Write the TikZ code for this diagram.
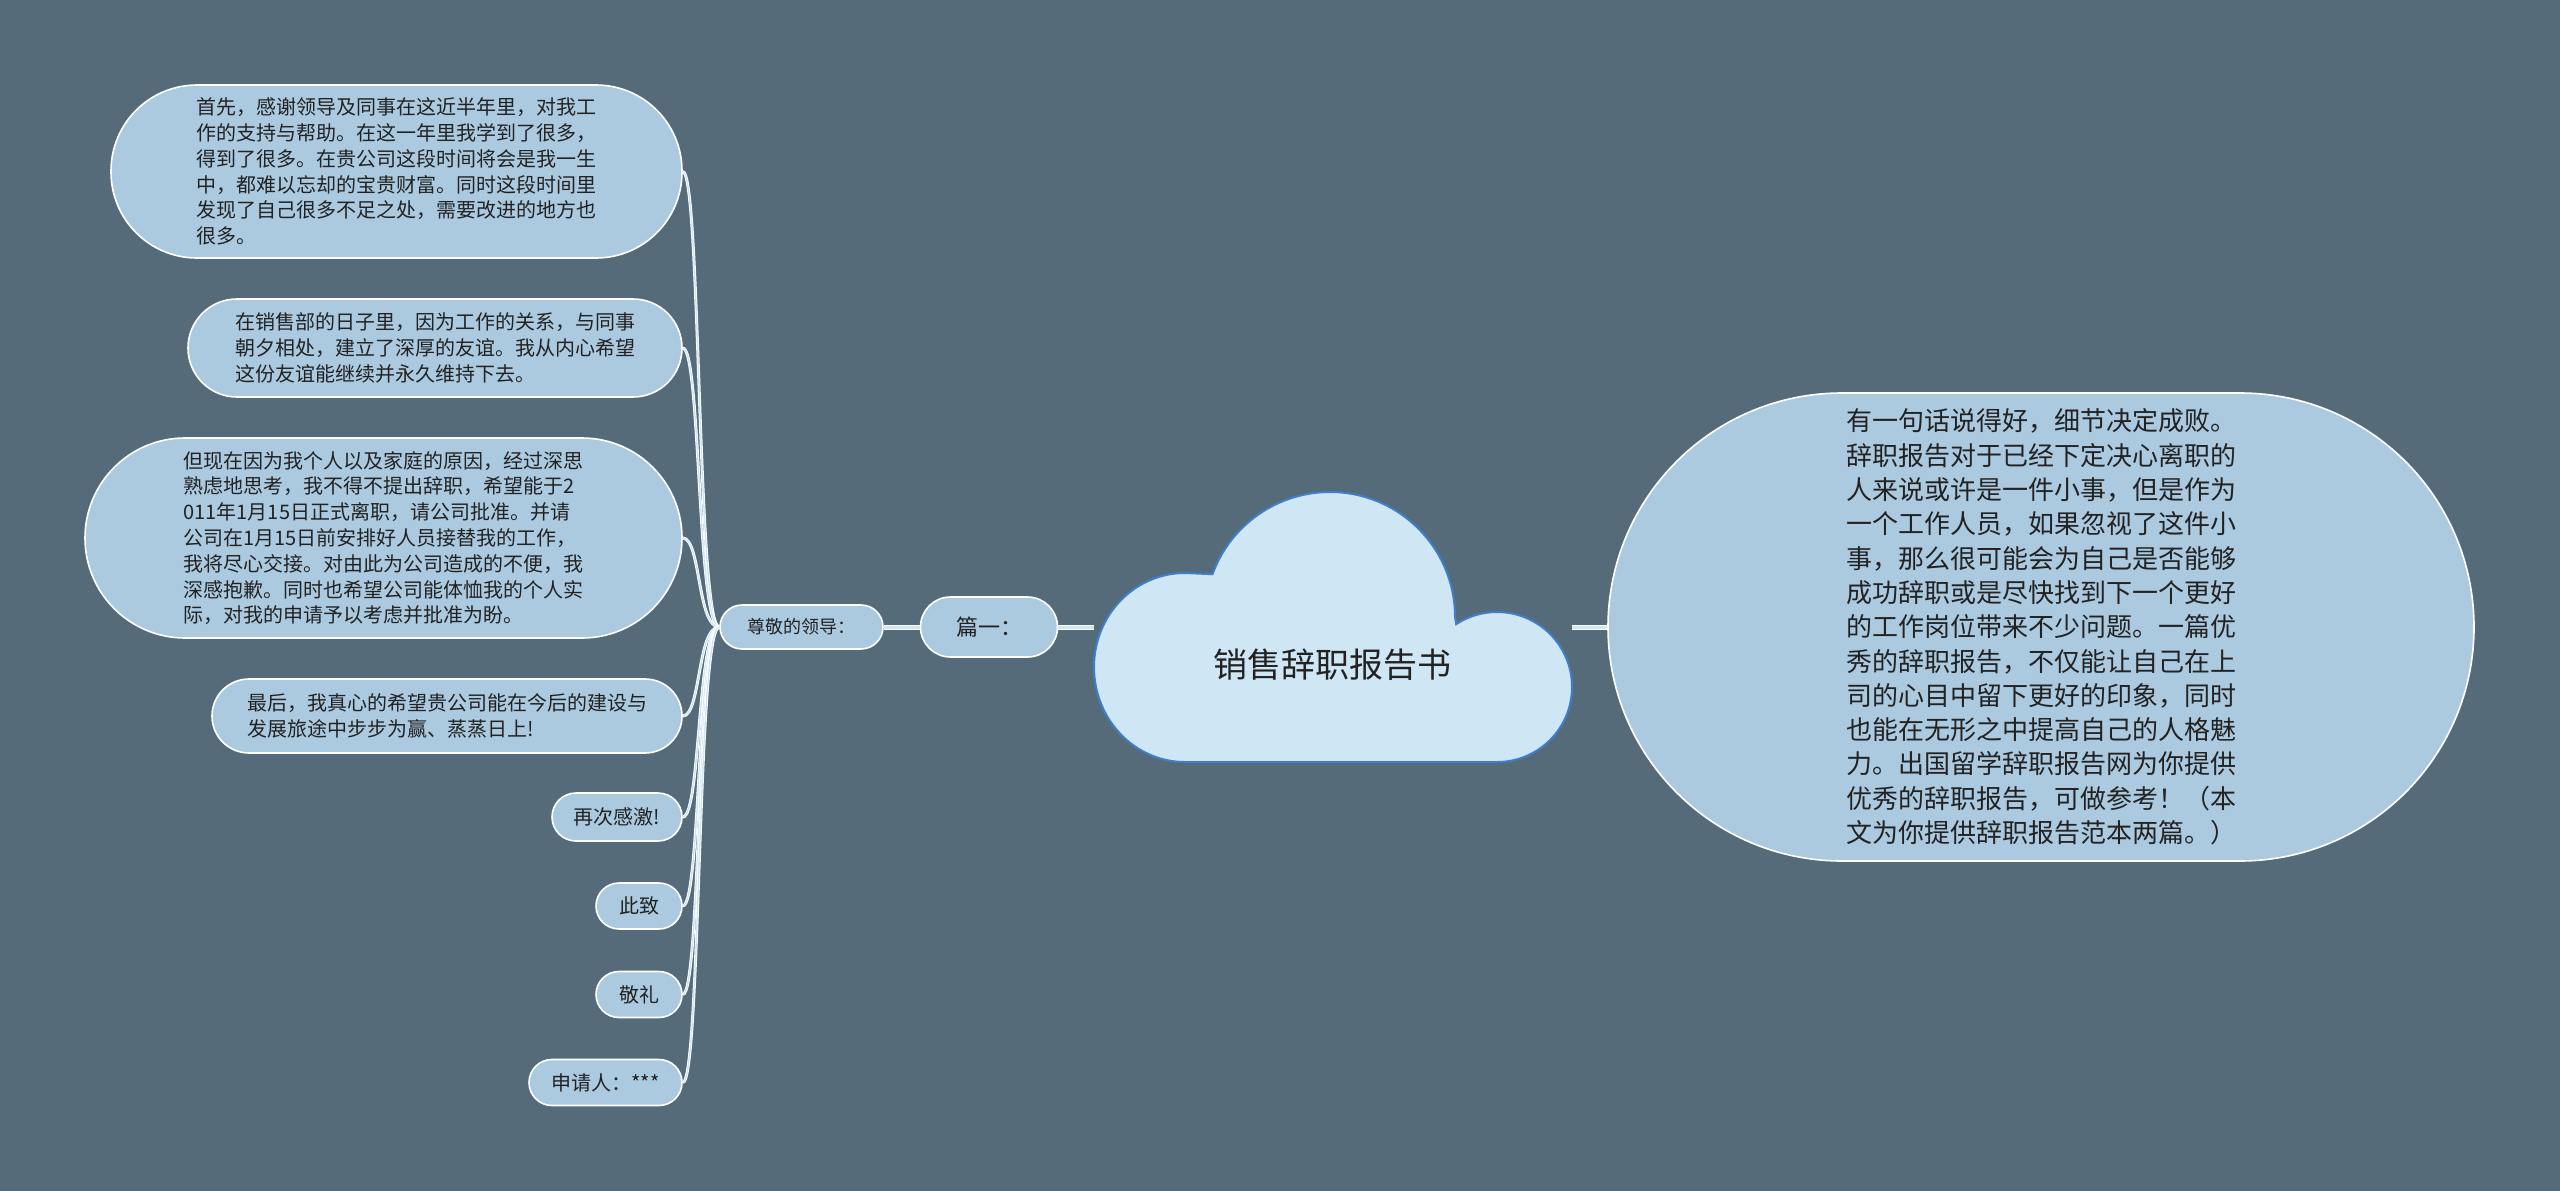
\documentclass[tikz,border=0pt]{standalone}
\usepackage{fontspec}
\setmainfont{Noto Sans CJK SC}
\definecolor{bgcol}{HTML}{566B7A}
\definecolor{bubcol}{HTML}{ABCAE0}
\definecolor{txtcol}{HTML}{222222}
\definecolor{linkcol}{HTML}{CFE6F4}
\definecolor{cloudfill}{HTML}{CFE6F4}
\definecolor{cloudline}{HTML}{3F7FC8}
\begin{document}
\begin{tikzpicture}[x=1pt,y=-1pt,
  bubble/.style={draw=white, line width=1.6pt, fill=bubcol, text=txtcol, inner sep=0pt, align=left},
  smalltxt/.style={font=\fontsize{20pt}{25.8pt}\selectfont},
  bigtxt/.style={font=\fontsize{26pt}{34.3pt}\selectfont},
  thinlink/.style={draw=white, line width=0.8pt, double=linkcol, double distance=1.4pt},
  thicklink/.style={draw=white, line width=1pt, double=linkcol, double distance=3pt},
]
\fill[bgcol] (0,0) rectangle (2560,1191);
\useasboundingbox (0,0) rectangle (2560,1191);

% cloud
\draw[fill=cloudfill, draw=cloudline, line width=2pt]
  (1185,762) .. controls (1134.7,762) and (1094,719.5) .. (1094,667)
  .. controls (1094,615) and (1134.7,573) .. (1185,573)
  -- (1212.5,574.2)
  .. controls (1230.5,524.8) and (1277.4,492) .. (1330,492)
  .. controls (1399,492) and (1455,548) .. (1455,617)
  -- (1456.2,624.1)
  .. controls (1468.4,616.2) and (1482.5,612) .. (1497,612)
  .. controls (1538.4,612) and (1572,645.6) .. (1572,687)
  .. controls (1572,728.4) and (1538.4,762) .. (1497,762)
  -- cycle;
\node[font=\fontsize{34pt}{40pt}\selectfont, text=txtcol] (title) at (1332,665) {销售辞职报告书};
\coordinate (cw) at (1094,627);
\coordinate (ce) at (1572,627);

% right node
\node[bubble, bigtxt, minimum width=866pt, minimum height=468pt, rounded corners=234pt] (rt) at (2041,627)
 {有一句话说得好，细节决定成败。\\
  辞职报告对于已经下定决心离职的\\
  人来说或许是一件小事，但是作为\\
  一个工作人员，如果忽视了这件小\\
  事，那么很可能会为自己是否能够\\
  成功辞职或是尽快找到下一个更好\\
  的工作岗位带来不少问题。一篇优\\
  秀的辞职报告，不仅能让自己在上\\
  司的心目中留下更好的印象，同时\\
  也能在无形之中提高自己的人格魅\\
  力。出国留学辞职报告网为你提供\\
  优秀的辞职报告，可做参考！（本\\
  文为你提供辞职报告范本两篇。）};

% middle nodes
\node[bubble, font=\fontsize{22pt}{26pt}\selectfont, minimum width=137pt, minimum height=60pt, rounded corners=30pt] (p1) at (989,627) {篇一：};
\node[bubble, font=\fontsize{18pt}{22pt}\selectfont, minimum width=163pt, minimum height=44pt, rounded corners=22pt] (lead) at (801.5,627) {尊敬的领导：};

% left leaves
\node[bubble, smalltxt, minimum width=571pt, minimum height=173pt, rounded corners=86pt] (b1) at (396.5,171.5)
 {首先，感谢领导及同事在这近半年里，对我工\\
  作的支持与帮助。在这一年里我学到了很多，\\
  得到了很多。在贵公司这段时间将会是我一生\\
  中，都难以忘却的宝贵财富。同时这段时间里\\
  发现了自己很多不足之处，需要改进的地方也\\
  很多。};
\node[bubble, smalltxt, minimum width=494pt, minimum height=98pt, rounded corners=49pt] (b2) at (435,348)
 {在销售部的日子里，因为工作的关系，与同事\\
  朝夕相处，建立了深厚的友谊。我从内心希望\\
  这份友谊能继续并永久维持下去。};
\node[bubble, smalltxt, minimum width=597pt, minimum height=200pt, rounded corners=100pt] (b3) at (383.5,538)
 {但现在因为我个人以及家庭的原因，经过深思\\
  熟虑地思考，我不得不提出辞职，希望能于2\\
  011年1月15日正式离职，请公司批准。并请\\
  公司在1月15日前安排好人员接替我的工作，\\
  我将尽心交接。对由此为公司造成的不便，我\\
  深感抱歉。同时也希望公司能体恤我的个人实\\
  际，对我的申请予以考虑并批准为盼。};
\node[bubble, smalltxt, minimum width=470pt, minimum height=74pt, rounded corners=37pt] (b4) at (447,716)
 {最后，我真心的希望贵公司能在今后的建设与\\
  发展旅途中步步为赢、蒸蒸日上!};
\node[bubble, smalltxt, minimum width=130pt, minimum height=48pt, rounded corners=24pt] (b5) at (617,817) {再次感激!};
\node[bubble, smalltxt, minimum width=86pt, minimum height=46pt, rounded corners=23pt] (b6) at (639,906) {此致};
\node[bubble, smalltxt, minimum width=86pt, minimum height=46pt, rounded corners=23pt] (b7) at (639,994.5) {敬礼};
\node[bubble, smalltxt, minimum width=153pt, minimum height=46pt, rounded corners=23pt] (b8) at (605.5,1082.5) {申请人：***};

% links
\draw[thicklink] (lead.east) -- (p1.west);
\draw[thicklink] (p1.east) -- (cw);
\draw[thicklink] (ce) -- (rt.west);
\foreach \b in {b1,b2,b3,b4,b5,b6,b7,b8}{
  \draw[thinlink] (lead.west) .. controls +(-22,0) and +(18,0) .. (\b.east);
}
\end{tikzpicture}
\end{document}
